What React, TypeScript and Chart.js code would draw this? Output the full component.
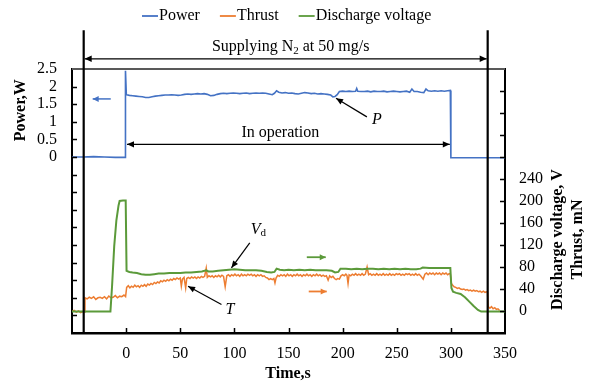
import React, { useEffect, useRef } from 'react';
import { Chart, registerables } from 'chart.js';

Chart.register(...registerables);

const FONT = '"Liberation Serif", "Times New Roman", serif';

// Time axis (s)
const timeMin = -50;
const timeMax = 350;
const timeStep = 50;
// Power axis (W)
const powerMin = -5;
const powerMax = 2.5;
const powerStep = 0.5;
// Voltage / thrust axis
const rightMin = -40;
const rightMax = 440;
const rightStep = 40;
const rightLabelMax = 240;

const seriesLabels = ['Power', 'Thrust', 'Discharge voltage'];
const seriesColors = ['#4472C4', '#ED7D31', '#5B9A3A'];

// [time s, power W]
const powerReadings: [number, number][] = [
  [-50, 0], [-40, 0], [-30, 0.01], [-20, 0], [-10, -0.01], [-3, -0.01], [-0.8, -0.01], [-0.6, 2.45], [0.2, 1.77],
  [3, 1.75], [6, 1.74], [9, 1.73], [12, 1.72], [15, 1.71], [18, 1.69], [21, 1.69], [24, 1.71], [27, 1.73], [30, 1.74],
  [33, 1.75], [36, 1.76], [39, 1.76], [42, 1.77], [45, 1.76], [48, 1.75], [51, 1.76], [54, 1.78], [57, 1.79], [60, 1.78],
  [63, 1.79], [66, 1.8], [69, 1.79], [72, 1.8], [75, 1.78], [78, 1.74], [81, 1.75], [84, 1.78], [87, 1.8], [90, 1.81],
  [93, 1.8], [96, 1.81], [99, 1.82], [102, 1.81], [105, 1.8], [108, 1.81], [111, 1.82], [114, 1.8], [117, 1.81], [120, 1.82],
  [123, 1.81], [126, 1.82], [129, 1.81], [132, 1.79], [135, 1.77], [137, 1.81], [139, 1.88], [141, 1.84], [144, 1.82],
  [147, 1.83], [150, 1.81], [153, 1.82], [156, 1.8], [159, 1.79], [162, 1.81], [165, 1.83], [168, 1.82], [171, 1.8],
  [174, 1.81], [177, 1.79], [180, 1.8], [183, 1.79], [186, 1.78], [189, 1.76], [191, 1.71], [193, 1.72], [195, 1.77],
  [197, 1.86], [200, 1.87], [203, 1.86], [206, 1.87], [209, 1.86], [212, 1.87], [213, 1.95], [214, 1.87], [217, 1.86],
  [220, 1.86], [223, 1.87], [226, 1.85], [229, 1.87], [232, 1.86], [235, 1.86], [238, 1.87], [241, 1.85], [244, 1.86],
  [247, 1.87], [250, 1.86], [253, 1.85], [256, 1.86], [259, 1.87], [262, 1.84], [264, 1.93], [266, 1.86], [269, 1.86],
  [272, 1.84], [275, 1.83], [277, 1.93], [279, 1.88], [282, 1.87], [285, 1.88], [288, 1.87], [291, 1.88], [294, 1.87],
  [297, 1.88], [299.5, 1.89], [300, -0.02], [310, -0.02], [320, -0.02], [330, -0.02], [340, -0.02], [350, -0.02],
];

// [time s, thrust mN]
const thrustReadings: [number, number][] = [
  [-50, -1], [-48, 1], [-46, -2], [-44, 0], [-42, -3], [-40, -1], [-38.5, -2], [-38, 24], [-36, 22], [-34, 25],
  [-32, 23], [-30, 26], [-28, 21], [-26, 24], [-24, 25], [-22, 23], [-20, 26], [-18, 22], [-16, 27], [-14, 24],
  [-12, 25], [-10, 28], [-8, 24], [-6, 27], [-4, 26], [-2, 29], [-0.5, 26],
  [0.5, 43], [2, 46], [3.5, 42], [5, 45], [6.5, 43], [8, 47], [9.5, 44], [11, 46], [12.5, 43], [14, 47], [15.5, 45],
  [17, 48], [18.5, 45], [20, 49], [21.5, 47], [23, 50], [24.5, 48], [26, 52], [27.5, 50], [29, 53], [30.5, 51],
  [32, 55], [33.5, 53], [35, 56], [36.5, 54], [38, 57], [39.5, 55], [41, 58], [42.5, 56], [44, 59], [45.5, 57],
  [47, 60], [48.5, 58], [50, 60], [51, 45], [52, 58], [53.5, 61], [55, 42], [56, 59], [57.5, 61], [59, 59],
  [60.5, 62], [62, 60], [63.5, 62], [65, 59], [66.5, 62], [68, 60], [69.5, 63], [71, 61], [72.5, 63], [74, 78],
  [75, 61], [76.5, 64], [78, 62], [79.5, 64], [81, 61], [82.5, 64], [84, 62], [85.5, 65], [87, 62], [88.5, 65],
  [90, 63], [91.5, 44], [93, 64], [94.5, 66], [96, 63], [97.5, 66], [99, 64], [100.5, 67], [102, 64], [103.5, 66],
  [105, 63], [106.5, 67], [108, 64], [109.5, 66], [111, 64], [112.5, 67], [114, 65], [115.5, 67], [117, 64],
  [118.5, 66], [120, 63], [121.5, 66], [123, 64], [124.5, 66], [126, 63], [127.5, 64], [129, 61], [130.5, 60],
  [132, 57], [133.5, 59], [135, 57], [136.5, 59], [137.5, 51], [138.5, 60], [140, 65], [141.5, 63], [143, 66],
  [144.5, 64], [146, 66], [147.5, 63], [149, 67], [150.5, 64], [152, 66], [153.5, 63], [155, 66], [156.5, 64],
  [158, 67], [159.5, 64], [161, 66], [162.5, 63], [164, 66], [165.5, 64], [167, 67], [168.5, 64], [170, 66],
  [171.5, 63], [173, 66], [174.5, 64], [176, 67], [177.5, 64], [179, 66], [180.5, 63], [182, 65], [183.5, 63],
  [185, 64], [186.6, 56], [188, 64], [189.5, 61], [191, 63], [192.5, 59], [194, 57], [195.5, 59], [197, 58],
  [198.5, 64], [200, 66], [201.5, 64], [203, 67], [204, 65], [205, 50], [206, 66], [207.5, 64], [209, 67],
  [210.5, 65], [212, 68], [213.5, 65], [215, 67], [216.5, 65], [218, 68], [219.5, 65], [221, 67], [222.6, 80],
  [224, 66], [225.5, 68], [227, 65], [228.5, 67], [230, 65], [231.5, 68], [233, 65], [234.5, 67], [236, 65],
  [237.5, 68], [239, 65], [240.5, 67], [242, 65], [243.5, 68], [245, 65], [246.5, 67], [248, 65], [249.5, 68],
  [251, 66], [252.5, 68], [254, 65], [255.5, 67], [257, 65], [258.5, 68], [260, 66], [261.5, 68], [263, 65],
  [264.5, 67], [266, 65], [267.5, 68], [269, 65], [270.5, 67], [272, 64], [274.4, 58], [276, 67], [277.5, 69],
  [279, 66], [280.5, 69], [282, 67], [283.5, 69], [285, 66], [286.5, 69], [288, 67], [289.5, 69], [291, 66],
  [292.5, 69], [294, 67], [295.5, 69], [297, 66], [298.5, 68], [299.5, 67],
  [300.5, 50], [301.5, 47], [303, 44], [304.5, 43], [306, 41], [307.5, 42], [309, 40], [310.5, 39], [312, 40],
  [313.5, 38], [315, 39], [316.5, 37], [318, 38], [319.5, 36], [321, 38], [322.5, 36], [324, 37], [325.5, 35],
  [327, 36], [328.5, 34], [330, 36], [331.5, 34], [333, 35], [333.8, 34], [334.5, 8], [336, 5], [337.5, 8],
  [339, 4], [340.5, 6], [342, 3], [343.5, 4], [345, 1],
];

// [time s, discharge voltage V]
const voltageReadings: [number, number][] = [
  [-50, -1], [-40, -1], [-30, -1], [-20, -1], [-14.5, -1], [-13, 45], [-11, 118], [-9, 165], [-7, 192], [-6, 200],
  [-3, 201], [-0.4, 201], [0.4, 73], [3, 71], [6, 70], [10, 69], [14, 67], [18, 66], [22, 66], [26, 67], [30, 68],
  [35, 68], [40, 69], [45, 69], [50, 69], [55, 70], [60, 70], [65, 71], [70, 72], [74, 74], [76, 72], [80, 72],
  [85, 73], [90, 74], [95, 75], [100, 76], [105, 75], [110, 74], [115, 74], [120, 74], [125, 73], [130, 71],
  [134, 70], [137, 71], [139, 77], [142, 75], [146, 74], [150, 75], [155, 74], [160, 75], [165, 74], [170, 75],
  [175, 74], [180, 74], [185, 74], [190, 73], [193, 70], [196, 71], [198, 77], [203, 77], [208, 76], [213, 77],
  [218, 76], [223, 77], [228, 77], [233, 76], [238, 77], [243, 76], [248, 77], [253, 76], [258, 77], [263, 76],
  [268, 76], [272, 77], [274, 79], [280, 78], [285, 78], [290, 78], [295, 78], [299.5, 78], [300.5, 42], [302, 35],
  [305, 33], [309, 31], [313, 25], [317, 17], [321, 9], [325, 2], [328, -1], [335, -1], [342, -1], [350, -1],
];

// Annotation anchors (data units)
const supplyStart = -39.2;
const supplyEnd = 334;
const operationStart = 0.8;
const operationEnd = 299;

function drawArrow(
  ctx: CanvasRenderingContext2D, x1: number, y1: number, x2: number, y2: number,
  color: string, lw: number, start: boolean, end: boolean, hl = 7, hw = 3.2,
) {
  ctx.strokeStyle = color;
  ctx.fillStyle = color;
  ctx.lineWidth = lw;
  ctx.beginPath();
  ctx.moveTo(x1, y1);
  ctx.lineTo(x2, y2);
  ctx.stroke();
  const head = (x: number, y: number, a: number) => {
    const c = Math.cos(a), s = Math.sin(a);
    ctx.beginPath();
    ctx.moveTo(x, y);
    ctx.lineTo(x - hl * c + hw * s, y - hl * s - hw * c);
    ctx.lineTo(x - hl * c - hw * s, y - hl * s + hw * c);
    ctx.closePath();
    ctx.fill();
  };
  const ang = Math.atan2(y2 - y1, x2 - x1);
  if (end) head(x2, y2, ang);
  if (start) head(x1, y1, ang + Math.PI);
}

const overlayPlugin = {
  id: 'overlay',
  afterDraw(chart: any) {
    const { ctx, chartArea: ca, scales } = chart;
    const xs = scales.x, ys = scales.y, yr = scales.y1;
    const X = (t: number) => xs.getPixelForValue(t);
    const YP = (v: number) => ys.getPixelForValue(v);
    const YR = (v: number) => yr.getPixelForValue(v);
    ctx.save();

    // top frame
    ctx.strokeStyle = '#595959';
    ctx.lineWidth = 2;
    ctx.beginPath();
    ctx.moveTo(ca.left, ca.top);
    ctx.lineTo(ca.right, ca.top);
    ctx.stroke();

    // inward tick marks
    ctx.strokeStyle = '#000';
    ctx.lineWidth = 1.5;
    ctx.beginPath();
    for (let t = timeMin + timeStep; t < timeMax; t += timeStep) {
      const px = Math.round(X(t)) + 0.5;
      ctx.moveTo(px, ca.bottom);
      ctx.lineTo(px, ca.bottom - 5);
    }
    for (let v = powerMin + powerStep; v < powerMax; v += powerStep) {
      const py = Math.round(YP(v)) + 0.5;
      ctx.moveTo(ca.left, py);
      ctx.lineTo(ca.left + 5, py);
    }
    for (let v = rightMin + rightStep; v < rightMax; v += rightStep) {
      const py = Math.round(YR(v)) + 0.5;
      ctx.moveTo(ca.right, py);
      ctx.lineTo(ca.right - 5, py);
    }
    ctx.stroke();

    // vertical supply markers
    ctx.strokeStyle = '#000';
    ctx.lineWidth = 2.2;
    ctx.beginPath();
    ctx.moveTo(X(supplyStart), YP(3.6));
    ctx.lineTo(X(supplyStart), ca.bottom);
    ctx.moveTo(X(supplyEnd), YP(3.6));
    ctx.lineTo(X(supplyEnd), ca.bottom);
    ctx.stroke();

    // supply arrow + text
    drawArrow(ctx, X(supplyStart) + 1, YP(2.79), X(supplyEnd) - 1, YP(2.79), '#000', 1.3, true, true);
    ctx.fillStyle = '#000';
    ctx.textBaseline = 'middle';
    ctx.font = `16px ${FONT}`;
    const p1 = 'Supplying N';
    const p3 = ' at 50 mg/s';
    const w1 = ctx.measureText(p1).width;
    ctx.font = `11px ${FONT}`;
    const w2 = ctx.measureText('2').width;
    ctx.font = `16px ${FONT}`;
    const w3 = ctx.measureText(p3).width;
    const sx = X(152) - (w1 + w2 + w3) / 2;
    const sy = YP(3.13);
    ctx.textAlign = 'left';
    ctx.fillText(p1, sx, sy);
    ctx.font = `11px ${FONT}`;
    ctx.fillText('2', sx + w1, sy + 4);
    ctx.font = `16px ${FONT}`;
    ctx.fillText(p3, sx + w1 + w2, sy);

    // operation arrow + text
    drawArrow(ctx, X(operationStart), YP(0.36), X(operationEnd), YP(0.36), '#000', 1.3, true, true);
    ctx.textAlign = 'center';
    ctx.fillText('In operation', X(142.4), YP(0.68));

    // small series arrows
    drawArrow(ctx, X(-14.2), YP(1.65), X(-30.9), YP(1.65), seriesColors[0], 1.5, false, true, 6, 3);
    drawArrow(ctx, X(166.9), YR(97.8), X(184.4), YR(97.8), seriesColors[2], 1.8, false, true, 6, 3);
    drawArrow(ctx, X(168.7), YR(35.5), X(185.3), YR(35.5), seriesColors[1], 1.8, false, true, 6, 3);

    // P label
    drawArrow(ctx, X(222.4), YP(1.14), X(193.9), YP(1.67), '#000', 1.2, false, true, 7, 3);
    ctx.font = `italic 16px ${FONT}`;
    ctx.fillStyle = '#000';
    ctx.fillText('P', X(231.6), YP(1.05));

    // Vd label
    drawArrow(ctx, X(114.2), YR(124), X(97.3), YR(78.5), '#000', 1.2, false, true, 7, 3);
    ctx.textAlign = 'left';
    ctx.font = `italic 16px ${FONT}`;
    const vw = ctx.measureText('V').width;
    const vx = X(121.6) - 7;
    ctx.fillText('V', vx, YR(148));
    ctx.font = `11px ${FONT}`;
    ctx.fillText('d', vx + vw, YR(148) + 4);

    // T label
    drawArrow(ctx, X(88.1), YR(11.8), X(57.2), YR(45), '#000', 1.2, false, true, 7, 3);
    ctx.textAlign = 'center';
    ctx.font = `italic 16px ${FONT}`;
    ctx.fillText('T', X(95.8), YR(2.7));

    // axis titles
    ctx.font = `bold 16px ${FONT}`;
    ctx.fillStyle = '#000';
    ctx.textAlign = 'center';
    ctx.textBaseline = 'middle';
    ctx.fillText('Time,s', X(149.6), 374);

    ctx.save();
    ctx.translate(21, YP(1.33));
    ctx.rotate(-Math.PI / 2);
    ctx.fillText('Power,W', 0, 0);
    ctx.restore();

    ctx.save();
    ctx.translate(558, YR(130));
    ctx.rotate(-Math.PI / 2);
    ctx.fillText('Discharge voltage, V', 0, 0);
    ctx.restore();

    ctx.save();
    ctx.translate(578, YR(130));
    ctx.rotate(-Math.PI / 2);
    ctx.fillText('Thrust, mN', 0, 0);
    ctx.restore();

    // legend
    ctx.font = `16px ${FONT}`;
    ctx.textAlign = 'left';
    ctx.textBaseline = 'middle';
    let lx = 142;
    const ly = 16;
    chart.data.datasets.forEach((ds: any) => {
      ctx.strokeStyle = ds.borderColor;
      ctx.lineWidth = 1.8;
      ctx.beginPath();
      ctx.moveTo(lx, ly);
      ctx.lineTo(lx + 16, ly);
      ctx.stroke();
      ctx.fillStyle = '#000';
      ctx.fillText(ds.label, lx + 17, ly);
      lx += 17 + ctx.measureText(ds.label).width + 20;
    });

    ctx.restore();
  },
};

const toPoints = (arr: [number, number][]) => arr.map(([x, y]) => ({ x, y }));

export default function App() {
  const ref = useRef<HTMLCanvasElement>(null);
  useEffect(() => {
    const tickFont = { family: FONT, size: 16 };
    const chart = new Chart(ref.current as HTMLCanvasElement, {
      type: 'line',
      data: {
        datasets: [
          {
            label: seriesLabels[0], data: toPoints(powerReadings), yAxisID: 'y',
            borderColor: seriesColors[0], backgroundColor: seriesColors[0], borderWidth: 1.6,
            pointRadius: 0, tension: 0, order: 3,
          },
          {
            label: seriesLabels[1], data: toPoints(thrustReadings), yAxisID: 'y1',
            borderColor: seriesColors[1], backgroundColor: seriesColors[1], borderWidth: 1.5,
            pointRadius: 0, tension: 0, order: 2,
          },
          {
            label: seriesLabels[2], data: toPoints(voltageReadings), yAxisID: 'y1',
            borderColor: seriesColors[2], backgroundColor: seriesColors[2], borderWidth: 2,
            pointRadius: 0, tension: 0, order: 1,
          },
        ],
      },
      options: {
        responsive: false,
        animation: false,
        events: [],
        layout: { padding: { top: 69, left: 0, right: 0, bottom: 0 } },
        plugins: { legend: { display: false }, tooltip: { enabled: false }, title: { display: false } },
        scales: {
          x: {
            type: 'linear', min: timeMin, max: timeMax,
            grid: { display: false, drawTicks: false },
            border: { display: true, color: '#000', width: 2.5 },
            ticks: {
              stepSize: timeStep, autoSkip: false, maxRotation: 0, padding: 11,
              color: '#000', font: tickFont,
              callback: (v: any) => (Number(v) === timeMin ? '' : String(v)),
            },
            afterFit: (s: any) => { s.height = 50; },
          },
          y: {
            type: 'linear', position: 'left', min: powerMin, max: powerMax,
            grid: { display: false, drawTicks: false },
            border: { display: true, color: '#000', width: 2 },
            ticks: {
              stepSize: powerStep, autoSkip: false, padding: 15, color: '#000', font: tickFont,
              callback: (v: any) => (Number(v) >= 0 ? String(v) : ''),
            },
            afterFit: (s: any) => { s.width = 72; },
          },
          y1: {
            type: 'linear', position: 'right', min: rightMin, max: rightMax,
            grid: { display: false, drawTicks: false },
            border: { display: true, color: '#000', width: 2 },
            ticks: {
              stepSize: rightStep, autoSkip: false, padding: 14, color: '#000', font: tickFont,
              callback: (v: any) => (Number(v) >= 0 && Number(v) <= rightLabelMax ? String(v) : ''),
            },
            afterFit: (s: any) => { s.width = 88; },
          },
        },
      } as any,
      plugins: [overlayPlugin],
    });
    return () => chart.destroy();
  }, []);

  return (
    <div style={{ position: 'fixed', left: 0, top: 0, width: 593, height: 383, background: '#fff' }}>
      <canvas ref={ref} width={593} height={383} style={{ display: 'block', width: 593, height: 383 }} />
    </div>
  );
}
